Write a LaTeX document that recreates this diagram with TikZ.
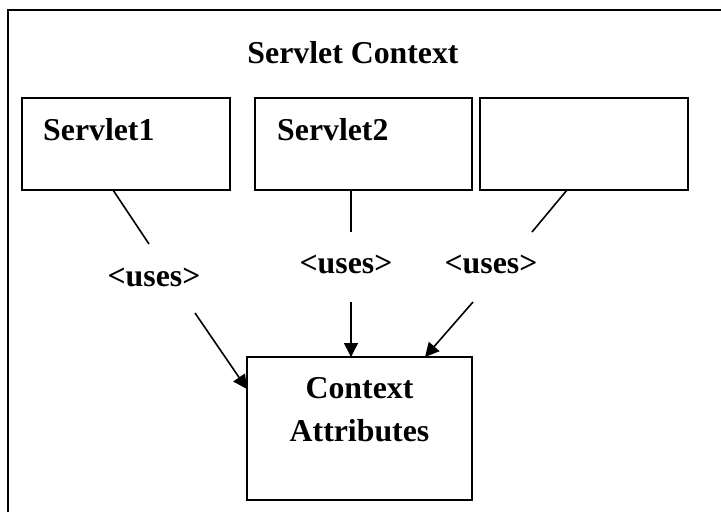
\documentclass[tikz,border=0pt]{standalone}
\usepackage{fontspec}
\setmainfont{Liberation Serif}
\usetikzlibrary{positioning,arrows.meta,calc}

\begin{document}
\begin{tikzpicture}[
  x=1pt, y=-1pt,
  font=\fontsize{31.8}{43}\selectfont\bfseries,
  bx/.style={draw, line width=1.6pt, inner sep=0pt, outer sep=0pt, minimum height=92pt},
  lbl/.style={inner sep=0pt},
  ln/.style={line width=1.6pt},
  ar/.style={line width=1.6pt, -{Triangle[length=14pt,width=14pt]}}
]
\useasboundingbox (0,0) rectangle (721,512);
% outer frame, cut off on the right and at the bottom
\draw[ln] (8,512) |- (721,10);
\node[lbl, anchor=base] (ctx) at (353,63) {Servlet Context};

\node[bx, minimum width=208pt] (s1) at (126,144) {};
\node[bx, minimum width=217pt, right=25pt of s1] (s2) {};
\node[bx, minimum width=208pt, right=8pt of s2] (s3) {};
\node[lbl, anchor=base west] (n1) at ($(s1.north west)+(21,42)$) {Servlet1};
\node[lbl, anchor=base west] (n2) at ($(s2.north west)+(22,42)$) {Servlet2};

\node[bx, minimum width=225pt, minimum height=143pt] (ca) at (359.5,428.5) {};
\node[lbl, anchor=base, align=center] (cat) at ($(ca.north)+(0,84)$) {Context\\Attributes};

\node[lbl, anchor=base] (u1) at (154,286) {<uses>};
\node[lbl, anchor=base] (u2) at (346,273.5) {<uses>};
\node[lbl, anchor=base] (u3) at (491,273.5) {<uses>};

\draw[ln] ($(s1.south)+(-13,0)$) -- ($(u1.base)+(-5,-42)$);
\draw[ar] ($(u1.base)+(41,27)$) -- ($(ca.north west)+(0,32)$);
\draw[ln] ($(s2.south)+(-12.5,0)$) -- ($(u2.base)+(5,-41.5)$);
\draw[ar] ($(u2.base)+(5,28.5)$) -- ($(ca.north)+(-8.5,0)$);
\draw[ln] ($(s3.south)+(-17,0)$) -- ($(u3.base)+(41,-41.5)$);
\draw[ar] ($(u3.base)+(-18,28.5)$) -- ($(ca.north east)+(-47,0)$);
\end{tikzpicture}
\end{document}
